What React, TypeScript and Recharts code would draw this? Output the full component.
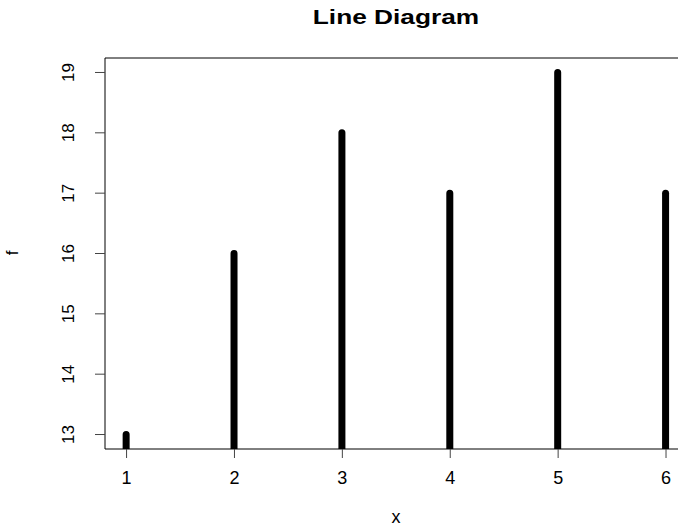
import { ComposedChart, Bar, XAxis, YAxis, ReferenceLine } from 'recharts';

const xValues = [1, 2, 3, 4, 5, 6];
const fValues = [13, 16, 18, 17, 19, 17];
const yTicks = [13, 14, 15, 16, 17, 18, 19];

const data = xValues.map((x, i) => ({ x, f: fValues[i] }));

const FONT = '"Liberation Sans", Arial, sans-serif';

// thick R-style "type = h" stick with a round cap on top
const Stick = (props: any) => {
  const { x, y, width, height } = props;
  const cx = x + width / 2;
  const r = 3.5;
  const bottom = y + height;
  return (
    <path
      d={`M${cx - r},${bottom} L${cx - r},${y} A${r},${r} 0 0 1 ${cx + r},${y} L${cx + r},${bottom} Z`}
      fill="#000"
    />
  );
};

const YTick = (props: any) => {
  const { x, y, payload } = props;
  return (
    <text
      x={x}
      y={y}
      transform={`rotate(-90, ${x}, ${y})`}
      textAnchor="middle"
      fontSize={17}
      fontFamily={FONT}
      fill="#000"
    >
      {payload.value}
    </text>
  );
};

export default function App() {
  return (
    <div style={{ position: 'absolute', left: 0, top: 0, width: 678, height: 531, fontFamily: FONT }}>
      <div
        style={{
          position: 'absolute',
          left: 0,
          width: 792,
          top: 5,
          textAlign: 'center',
          fontWeight: 'bold',
          fontSize: 21,
          color: '#000',
          transform: 'scaleX(1.25)',
          transformOrigin: '396px 0',
        }}
      >
        Line Diagram
      </div>
      <div
        style={{
          position: 'absolute',
          left: 11,
          top: 243,
          fontSize: 17,
          lineHeight: '20px',
          transform: 'rotate(-90deg)',
          color: '#000',
        }}
      >
        f
      </div>
      <div
        style={{
          position: 'absolute',
          left: 0,
          width: 792,
          top: 507,
          textAlign: 'center',
          fontSize: 18,
          color: '#000',
        }}
      >
        x
      </div>
      <ComposedChart
        width={678}
        height={531}
        data={data}
        margin={{ top: 58, right: 0, bottom: 0, left: 0 }}
      >
        <XAxis
          dataKey="x"
          type="number"
          domain={[0.8, 6.111]}
          ticks={xValues}
          allowDataOverflow
          height={82}
          tickSize={9}
          tickMargin={13}
          stroke="#000"
          tick={{ fontSize: 18, fill: '#000', fontFamily: FONT }}
          tickLine={{ stroke: '#444' }}
        />
        <YAxis
          type="number"
          domain={[12.76, 19.24]}
          ticks={yTicks}
          allowDataOverflow
          width={105}
          tickSize={10}
          tickMargin={21}
          stroke="#000"
          tickLine={{ stroke: '#444' }}
          tick={<YTick />}
        />
        <ReferenceLine y={19.24} stroke="#000" strokeWidth={1} />
        <Bar dataKey="f" barSize={7} shape={<Stick />} isAnimationActive={false} />
      </ComposedChart>
    </div>
  );
}
